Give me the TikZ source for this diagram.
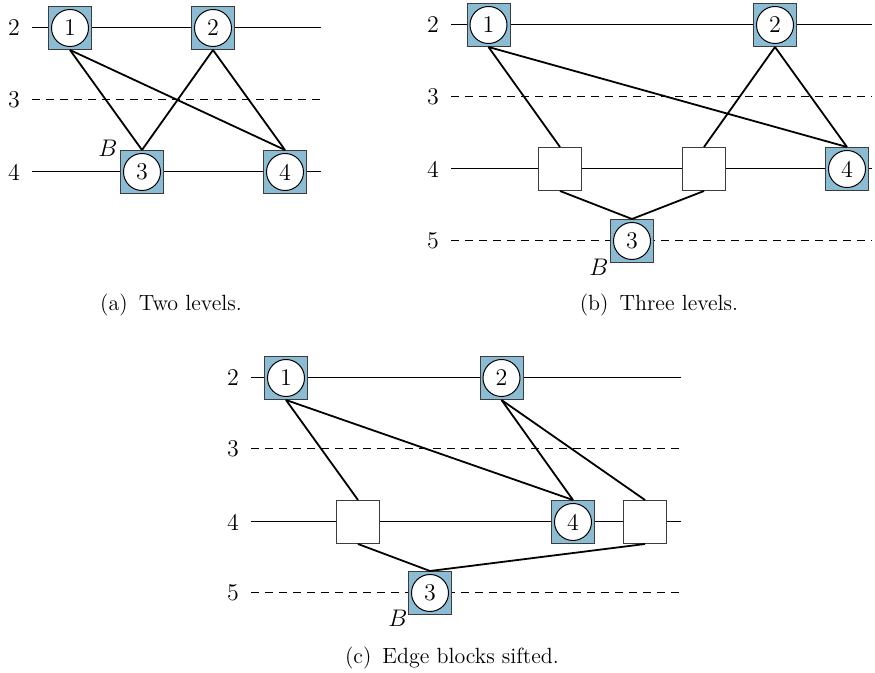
\documentclass[tikz,border=0pt]{standalone}
\usetikzlibrary{positioning}
\definecolor{blkblue}{RGB}{139,188,212}
\definecolor{blkedge}{RGB}{60,60,60}
\tikzset{
  blk/.style={draw=blkedge, fill=blkblue, line width=0.5pt, minimum size=21.5pt, inner sep=0pt},
  dum/.style={draw=blkedge, fill=white, line width=0.5pt, minimum size=21.5pt, inner sep=0pt},
  cnode/.style={circle, draw=black, fill=white, line width=0.5pt, minimum size=18.5pt, inner sep=0pt, font=\large},
  lvl/.style={line width=0.5pt},
  lvld/.style={line width=0.5pt, dash pattern=on 4pt off 3pt},
  edgeline/.style={line width=0.9pt},
  lvllab/.style={font=\large, inner sep=0pt},
  blab/.style={font=\large, inner sep=0pt},
  captext/.style={inner sep=0pt, font=\fontsize{11}{13}\selectfont},
}
\begin{document}
\begin{tikzpicture}[x=0.5pt, y=-0.5pt]
\useasboundingbox (0,0) rectangle (875,673);
% ---------- (a) ----------
\node[lvllab] (la2) at (14,28) {2};
\node[lvllab] (la3) at (14,100) {3};
\node[lvllab] (la4) at (14,172) {4};
\coordinate (ea2) at (321,28);
\coordinate (ea3) at (321,100);
\coordinate (ea4) at (321,172);
\draw[lvl] (la2.east) ++(6pt,0) -- (ea2);
\draw[lvld] (la3.east) ++(6pt,0) -- (ea3);
\draw[lvl] (la4.east) ++(6pt,0) -- (ea4);
\node[blk] (a1) at (70,28) {};
\node[cnode] (a1c) at (a1) {1};
\node[blk] (a2) at (213,28) {};
\node[cnode] (a2c) at (a2) {2};
\node[blk] (a3) at (142,172) {};
\node[cnode] (a3c) at (a3) {3};
\node[blk] (a4) at (285,172) {};
\node[cnode] (a4c) at (a4) {4};
\node[blab] (aB) at (108,148) {$B$};
\draw[edgeline] (a1.south) -- (a3.north);
\draw[edgeline] (a1.south) -- (a4.north);
\draw[edgeline] (a2.south) -- (a3.north);
\draw[edgeline] (a2.south) -- (a4.north);
\node[captext] (capa) at (171,305) {(a)\enspace Two levels.};
% ---------- (b) ----------
\node[lvllab] (lb2) at (433,25) {2};
\node[lvllab] (lb3) at (433,97) {3};
\node[lvllab] (lb4) at (433,169) {4};
\node[lvllab] (lb5) at (433,241) {5};
\coordinate (eb2) at (872,25);
\coordinate (eb3) at (872,97);
\coordinate (eb4) at (872,169);
\coordinate (eb5) at (872,241);
\draw[lvl] (lb2.east) ++(6pt,0) -- (eb2);
\draw[lvld] (lb3.east) ++(6pt,0) -- (eb3);
\draw[lvl] (lb4.east) ++(6pt,0) -- (eb4);
\draw[lvld] (lb5.east) ++(6pt,0) -- (eb5);
\node[blk] (b1) at (488.5,25) {};
\node[cnode] (b1c) at (b1) {1};
\node[blk] (b2) at (775,25) {};
\node[cnode] (b2c) at (b2) {2};
\node[dum] (bd1) at (560,169) {};
\node[dum] (bd2) at (704,169) {};
\node[blk] (b4) at (847,169) {};
\node[cnode] (b4c) at (b4) {4};
\node[blk] (b3) at (632,241) {};
\node[cnode] (b3c) at (b3) {3};
\node[blab] (bB) at (599,267) {$B$};
\draw[edgeline] (b1.south) -- (bd1.north);
\draw[edgeline] (b1.south) -- (b4.north);
\draw[edgeline] (b2.south) -- (bd2.north);
\draw[edgeline] (b2.south) -- (b4.north);
\draw[edgeline] (bd1.south) -- (b3.north);
\draw[edgeline] (bd2.south) -- (b3.north);
\node[captext] (capb) at (659,305) {(b)\enspace Three levels.};
% ---------- (c) ----------
\node[lvllab] (lc2) at (233,378) {2};
\node[lvllab] (lc3) at (233,449) {3};
\node[lvllab] (lc4) at (233,522) {4};
\node[lvllab] (lc5) at (233,593) {5};
\coordinate (ec2) at (681,378);
\coordinate (ec3) at (681,449);
\coordinate (ec4) at (681,522);
\coordinate (ec5) at (681,593);
\draw[lvl] (lc2.east) ++(6pt,0) -- (ec2);
\draw[lvld] (lc3.east) ++(6pt,0) -- (ec3);
\draw[lvl] (lc4.east) ++(6pt,0) -- (ec4);
\draw[lvld] (lc5.east) ++(6pt,0) -- (ec5);
\node[blk] (c1) at (286,378) {};
\node[cnode] (c1c) at (c1) {1};
\node[blk] (c2) at (501.5,378) {};
\node[cnode] (c2c) at (c2) {2};
\node[dum] (cd1) at (358,522) {};
\node[blk] (c4) at (573,522) {};
\node[cnode] (c4c) at (c4) {4};
\node[dum] (cd2) at (645,522) {};
\node[blk] (c3) at (430,593) {};
\node[cnode] (c3c) at (c3) {3};
\node[blab] (cB) at (398,618) {$B$};
\draw[edgeline] (c1.south) -- (cd1.north);
\draw[edgeline] (c1.south) -- (c4.north);
\draw[edgeline] (c2.south) -- (c4.north);
\draw[edgeline] (c2.south) -- (cd2.north);
\draw[edgeline] (cd1.south) -- (c3.north);
\draw[edgeline] (cd2.south) -- (c3.north);
\node[captext] (capc) at (452,658) {(c)\enspace Edge blocks sifted.};
\end{tikzpicture}
\end{document}
